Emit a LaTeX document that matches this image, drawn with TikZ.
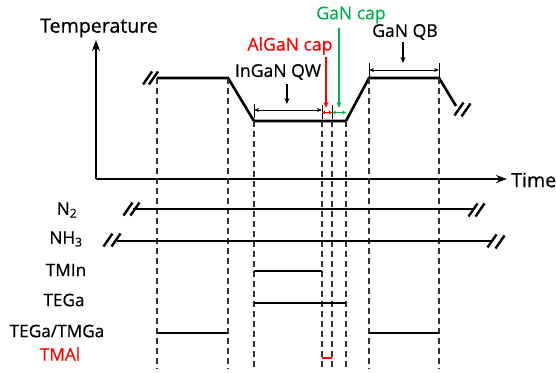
\documentclass[tikz,border=0pt]{standalone}
\usepackage{fontspec}
\setmainfont{Open Sans}[FakeBold=0.6]
\usetikzlibrary{arrows.meta}
\definecolor{capgreen}{HTML}{00B050}
\definecolor{capred}{HTML}{FF0000}
\begin{document}
\begin{tikzpicture}[x=1pt,y=-1pt,
  prof/.style={line width=2.6pt, line join=miter},
  axis/.style={line width=2.6pt, -{Stealth[length=11pt,width=8pt]}},
  gas/.style={line width=2.4pt},
  dashv/.style={line width=1.3pt, dash pattern=on 6pt off 4pt, black!80},
  brk/.style={line width=0.9pt, {Stealth[length=5pt,width=4pt]}-{Stealth[length=5pt,width=4pt]}},
  tick/.style={line width=0.9pt},
  pointer/.style={line width=1.8pt, -{Stealth[length=6pt,width=5pt]}},
  breakmark/.style={line width=2.4pt},
  lbl/.style={font=\fontsize{17.6}{18}\selectfont, inner sep=0pt},
  big/.style={font=\fontsize{19.6}{20}\selectfont, inner sep=0pt},
  gaslbl/.style={font=\fontsize{17.2}{18}\selectfont, inner sep=0pt},
]
\useasboundingbox (0,0) rectangle (556,372);

% axes
\coordinate (O) at (96,179);
\coordinate (Ytip) at (96,40);
\coordinate (Xtip) at (507,179);
\draw[axis] (O) -- (Ytip);
\draw[axis] (O) -- (Xtip);
\node[big] (temp) at (99,28) {Temperature};
\node[big, anchor=west] (time) at (511,180) {Time};

% profile
\coordinate (p0) at (157,78);
\coordinate (p1) at (228,78);
\coordinate (p2) at (254,121);
\coordinate (p3) at (346,121);
\coordinate (p4) at (369,78);
\coordinate (p5) at (439,78);
\coordinate (p6) at (456,106);
\draw[prof] (p0) -- (p1) -- (p2) -- (p3) -- (p4) -- (p5) -- (p6);
\foreach \c in {(147.5,78),(153.5,78),(459,109),(466,110)}
  \draw[breakmark] \c ++(-4.5,6.5) -- ++(9,-13);

% dashed guides
\foreach \x/\y in {157/78,228/78,254/121,322/121,332/121,346/121,369/78,439/78}
  \draw[dashv] (\x,\y) -- (\x,369);

% brackets
\coordinate (qwL) at (254,110);
\coordinate (qwR) at (322,110);
\draw[tick] (254,104) -- (254,118);
\draw[tick] (322,105) -- (322,119);
\draw[tick] (332,105) -- (332,119);
\draw[brk] (qwL) -- (qwR);
\coordinate (alL) at (322,112.5);
\coordinate (alR) at (332,112.5);
\draw[brk, capred, {Stealth[length=3.5pt,width=4pt]}-{Stealth[length=3.5pt,width=4pt]}] (alL) -- (alR);
\coordinate (gcL) at (332,112.5);
\coordinate (gcR) at (346,112.5);
\draw[brk, capgreen, {Stealth[length=4pt,width=4pt]}-{Stealth[length=4pt,width=4pt]}] (gcL) -- (gcR);
\coordinate (qbL) at (369,70);
\coordinate (qbR) at (439,70);
\draw[tick] (369,63) -- (369,78);
\draw[tick] (439,63) -- (439,78);
\draw[brk] (qbL) -- (qbR);

% labels and pointers
\node[lbl] (qw) at (278,72) {InGaN QW};
\coordinate (qwA) at (287,84);
\coordinate (qwB) at (287,104);
\draw[pointer] (qwA) -- (qwB);
\node[lbl, text=capred] (alcap) at (290,46) {AlGaN cap};
\coordinate (alA) at (326,57);
\coordinate (alB) at (326,108);
\draw[pointer, capred] (alA) -- (alB);
\node[lbl, text=capgreen] (gacap) at (351,15) {GaN cap};
\coordinate (gcA) at (339,28);
\coordinate (gcB) at (339,108);
\draw[pointer, capgreen] (gcA) -- (gcB);
\node[lbl] (qb) at (405,32) {GaN QB};
\coordinate (qbA) at (403,42);
\coordinate (qbB) at (403,63);
\draw[pointer] (qbA) -- (qbB);

% gas rows
\node[gaslbl] (n2) at (67,210) {N\textsubscript{2}};
\node[gaslbl] (nh3) at (66,239) {NH\textsubscript{3}};
\node[gaslbl] (tmin) at (66,270) {TMIn};
\node[gaslbl] (tega) at (64,300) {TEGa};
\node[gaslbl] (tmga) at (57,331) {TEGa/TMGa};
\node[gaslbl, text=capred] (tmal) at (60,354) {TMAl};

\draw[gas] (133,209) -- (473,209);
\foreach \c in {(128,209),(135,209),(473,210),(480,210)}
  \draw[breakmark] \c ++(-4.5,6.5) -- ++(9,-13);
\draw[gas] (117,241) -- (493,241);
\foreach \c in {(108,240),(116,240),(492,241),(500,242)}
  \draw[breakmark] \c ++(-4.5,6.5) -- ++(9,-13);
\draw[gas] (254,271) -- (322,271);
\draw[gas] (254,303) -- (346,303);
\draw[gas] (157,333) -- (228,333);
\draw[gas] (369,333) -- (439,333);
\draw[gas, capred] (322,358) -- (332,358);
\end{tikzpicture}
\end{document}
